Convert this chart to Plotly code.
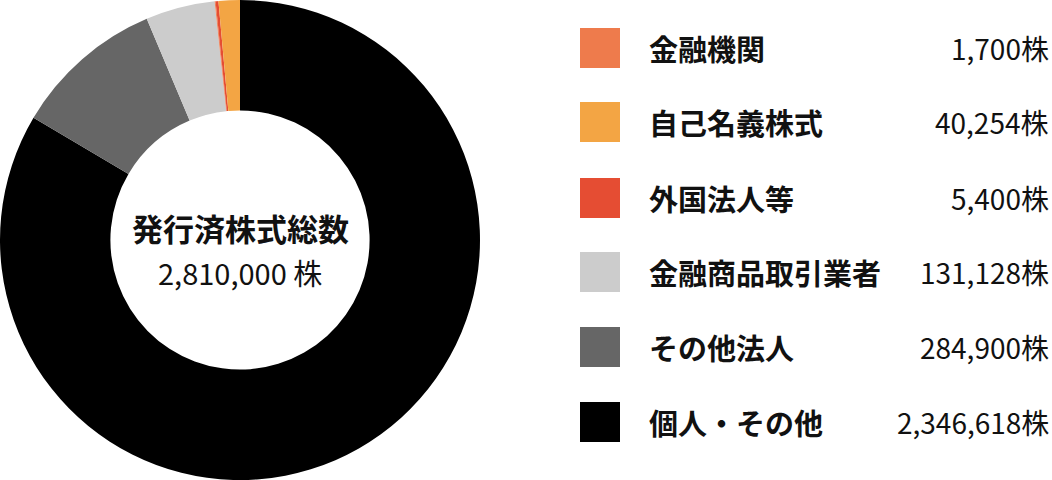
import plotly.graph_objects as go

# 株式分布状況
categories = ['金融機関', '自己名義株式', '外国法人等', '金融商品取引業者', 'その他法人', '個人・その他']
shares = [1700, 40254, 5400, 131128, 284900, 2346618]
colors = ['#EE7B4C', '#F3A544', '#E54D33', '#CCCCCC', '#666666', '#000000']
total_label = '発行済株式総数'
total_shares = 2810000

# order of slices going clockwise from 12 o'clock
pie_order = [5, 4, 3, 0, 2, 1]

W, H = 1052, 480
FONT = 'Noto Sans CJK JP'

fig = go.Figure()
fig.add_trace(go.Pie(
    labels=[categories[i] for i in pie_order],
    values=[shares[i] for i in pie_order],
    marker=dict(colors=[colors[i] for i in pie_order], line=dict(width=0)),
    hole=0.54,
    sort=False,
    direction='clockwise',
    rotation=0,
    textinfo='none',
    hoverinfo='label+value',
    showlegend=False,
    domain=dict(x=[0, 480 / W], y=[0, 1]),
))

# center text
fig.add_annotation(x=240 / W, y=1 - 227 / H, xref='paper', yref='paper', showarrow=False,
                   xanchor='center', yanchor='middle',
                   text='<b>' + total_label + '</b>', font=dict(family=FONT, size=31, color='#111111'))
fig.add_annotation(x=240 / W, y=1 - 272 / H, xref='paper', yref='paper', showarrow=False,
                   xanchor='center', yanchor='middle',
                   text=f'{total_shares:,} 株', font=dict(family=FONT, size=29, color='#111111'))

# legend
row_y = [48, 122, 198, 272, 347, 422]
for i, name in enumerate(categories):
    yc = row_y[i]
    fig.add_shape(type='rect', xref='paper', yref='paper',
                  x0=580 / W, x1=620 / W, y0=1 - (yc + 20) / H, y1=1 - (yc - 20) / H,
                  fillcolor=colors[i], line=dict(width=0))
    fig.add_annotation(x=647 / W, y=1 - yc / H, xref='paper', yref='paper', showarrow=False,
                       xanchor='left', yanchor='middle', text='<b>' + name + '</b>',
                       font=dict(family=FONT, size=29, color='#111111'))
    fig.add_annotation(x=1051 / W, y=1 - yc / H, xref='paper', yref='paper', showarrow=False,
                       xanchor='right', yanchor='middle', text=f'{shares[i]:,}株',
                       font=dict(family=FONT, size=28, color='#111111'))

fig.update_layout(width=W, height=H, margin=dict(l=0, r=0, t=0, b=0),
                  paper_bgcolor='white', plot_bgcolor='white')

fig.write_html('out.html', config={'displayModeBar': False},
               post_script="document.body.style.margin='0';")
